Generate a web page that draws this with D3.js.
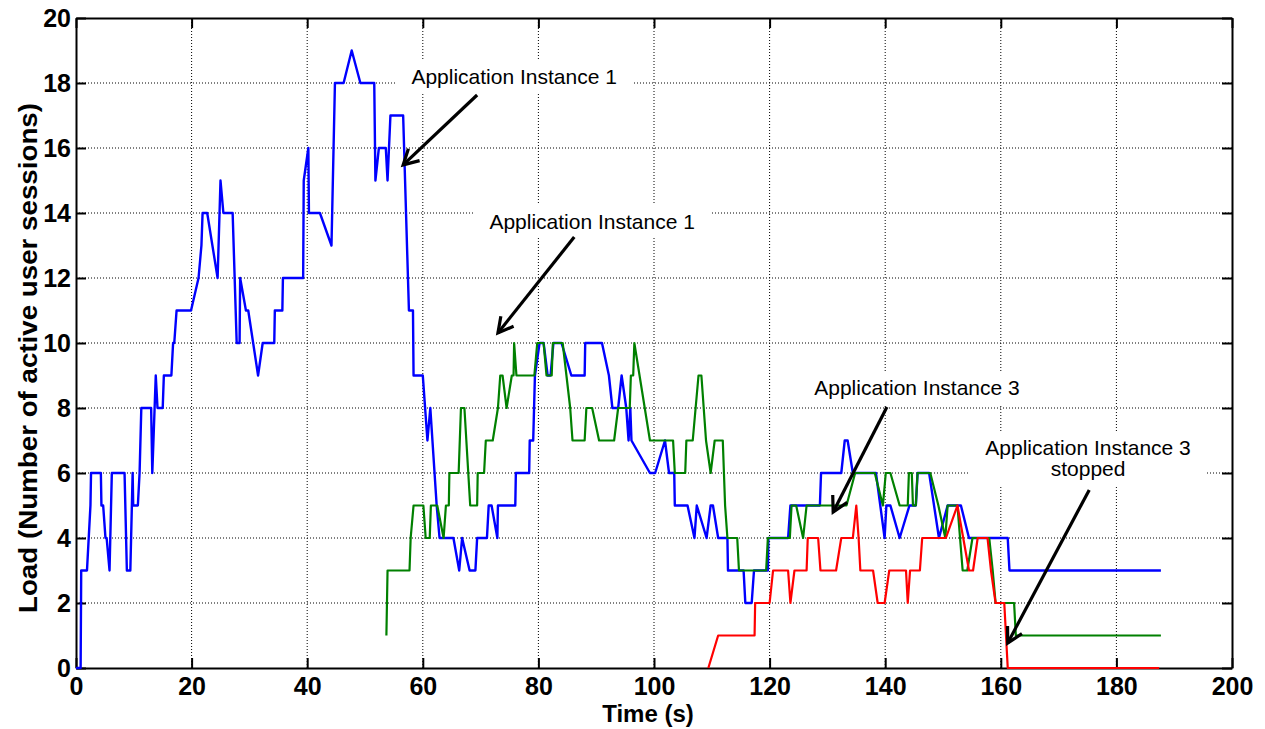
<!DOCTYPE html>
<html>
<head>
<meta charset="utf-8">
<script src="https://cdn.jsdelivr.net/npm/d3@7"></script>
<style>
body { margin: 0; background: #fff; }
text { font-family: "Liberation Sans", Arial, Helvetica, sans-serif; }
</style>
</head>
<body>
<script>
// series: time (s) and load (active sessions)
let blueTime = [0,0.8,0.9,1.9,2.5,2.6,4.3,4.4,4.7,5.1,5.3,5.8,6.2,8.4,8.8,9.4,9.8,9.9,10.7,11.0,11.3,13.0,13.2,13.8,14.1,15.0,15.2,16.5,16.8,17.0,17.4,19.9,21.2,21.7,21.9,22.7,24.5,25.0,25.5,27.1,27.8,28.3,28.4,29.4,29.8,31.5,32.3,34.3,34.4,35.7,35.8,39.3,39.4,40.2,40.3,42.2,44.2,44.8,46.3,47.7,49.2,51.6,51.8,52.4,53.6,53.9,54.4,56.6,57.6,58.3,58.4,60.0,60.8,61.3,62.4,62.9,65.3,66.3,66.8,68.1,69.1,69.4,71.1,71.4,71.9,72.9,73.0,76.0,76.1,78.4,78.5,79.1,79.4,80.2,80.9,81.6,82.1,82.6,84.0,85.7,88.0,88.1,91.0,92.2,92.8,93.8,94.4,95.2,95.6,95.9,96.1,99.3,100.2,101.9,102.6,103.5,103.6,105.8,107.0,107.4,109.1,109.8,110.2,111.1,112.7,112.8,115.5,115.8,116.9,117.3,119.7,119.8,123.2,123.6,128.7,128.9,132.4,133.0,133.5,134.4,138.4,139.9,140.2,140.9,142.5,144.2,145.3,145.6,147.6,149.3,150.8,153.1,154.5,161.2,161.5,187.7]
let blueLoad = [0,0,3,3,5,6,6,5,5,4,4,3,6,6,3,3,6,5,5,6,8,8,6,9,8,8,9,9,10,10,11,11,12,13,14,14,12,15,14,14,10,10,12,11,11,9,10,10,11,11,12,12,15,16,14,14,13,18,18,19,18,18,15,16,16,15,17,17,11,11,9,9,7,8,5,4,4,3,4,3,3,4,4,5,5,4,5,5,6,6,7,7,9,10,10,9,9,10,10,9,9,10,10,9,8,8,9,8,7,8,7,6,6,7,6,6,5,5,4,5,4,5,5,4,4,3,3,2,2,3,3,4,4,5,5,6,6,7,7,6,6,4,5,5,4,5,5,6,6,4,5,5,4,4,3,3]

let greenTime = [53.7,53.9,57.7,57.9,58.4,60.1,60.5,61.2,61.4,62.5,63.6,64.0,64.5,64.6,66.2,66.6,67.2,68.2,69.4,69.5,70.6,70.9,72.1,73.0,73.4,73.8,74.5,75.4,75.7,75.8,76.2,79.3,79.8,80.9,81.4,82.3,82.5,84.2,85.5,85.9,88.0,88.3,89.3,90.5,93.1,93.8,95.8,96.0,96.4,96.6,99.3,103.3,103.6,105.4,105.6,106.7,107.7,108.2,109.0,109.8,110.5,111.9,112.3,112.7,114.4,114.7,119.4,119.7,123.5,123.8,124.6,125.8,126.4,133.3,134.8,138.2,139.6,140.1,140.9,142.5,143.9,144.1,144.6,144.8,145.3,145.6,147.8,149.2,150.4,150.8,152.5,153.4,154.2,155.1,158.0,158.6,159.1,162.3,162.6,187.7]
let greenLoad = [1,3,3,4,5,5,4,4,5,5,4,5,5,6,6,8,8,5,5,6,6,7,7,8,9,9,8,9,9,10,9,9,10,10,9,9,10,10,8,7,7,8,8,7,7,8,8,9,9,10,7,7,6,6,7,7,9,9,7,6,7,7,5,4,4,3,3,4,4,5,5,4,5,5,6,6,5,6,6,5,5,6,6,5,5,6,6,5,4,5,5,3,3,4,4,3,2,2,1,1]

let redTime = [109.4,111.1,117.4,117.5,120.0,120.6,123.2,123.6,124.3,126.4,126.6,128.4,128.8,131.5,132.4,134.4,135.0,135.4,135.7,137.9,138.7,139.9,140.7,143.6,143.9,144.3,146.0,146.4,150.5,152.5,154.5,155.2,156.0,157.7,158.3,159.1,160.6,161.2,187.4]
let redLoad = [0,1,1,2,2,3,3,2,3,3,4,4,3,3,4,4,5,4,3,3,2,2,3,3,2,3,3,4,4,5,3,3,4,4,3,2,2,0,0]

let xTicks = [0,20,40,60,80,100,120,140,160,180,200]
let yTicks = [0,2,4,6,8,10,12,14,16,18,20]

// annotations in data units: label anchor and arrow tail/tip
let noteText = [['Application Instance 1'], ['Application Instance 1'], ['Application Instance 3'], ['Application Instance 3', 'stopped']]
let noteAt = [[75.8, 17.97], [89.3, 13.51], [145.5, 8.4], [175.1, 6.55]]
let arrowFrom = [[69.4, 17.63], [86.2, 13.26], [140.3, 8.03], [175.3, 5.48]]
let arrowTo = [[56.6, 15.48], [73.0, 10.31], [131.0, 4.8], [161.2, 0.77]]

let w = 1265
let h = 729
let x = d3.scaleLinear().domain([0, 200]).range([76, 1232])
let y = d3.scaleLinear().domain([0, 20]).range([668, 18])

let svg = d3.select('body').append('svg').attr('width', w).attr('height', h)

// dotted grid
svg.append('g').selectAll('line').data(xTicks.slice(1, -1)).enter().append('line')
  .attr('x1', d => x(d)).attr('x2', d => x(d)).attr('y1', y(0)).attr('y2', y(20))
  .attr('stroke', '#000').attr('stroke-width', 1).attr('stroke-dasharray', '1,2')
svg.append('g').selectAll('line').data(yTicks.slice(1, -1)).enter().append('line')
  .attr('y1', d => y(d)).attr('y2', d => y(d)).attr('x1', x(0)).attr('x2', x(200))
  .attr('stroke', '#000').attr('stroke-width', 1).attr('stroke-dasharray', '1,2')

// axes with inward ticks (box)
let fmt = d3.format('d')
svg.append('g').attr('transform', 'translate(0,' + y(0) + ')')
  .call(d3.axisBottom(x).tickValues(xTicks).tickFormat(fmt).tickSize(-10).tickSizeOuter(0).tickPadding(9))
svg.append('g').attr('transform', 'translate(' + x(0) + ',0)')
  .call(d3.axisLeft(y).tickValues(yTicks).tickFormat(fmt).tickSize(-10).tickSizeOuter(0).tickPadding(5))
svg.append('g').attr('transform', 'translate(0,' + y(20) + ')')
  .call(d3.axisTop(x).tickValues(xTicks).tickFormat('').tickSize(-10).tickSizeOuter(0))
svg.append('g').attr('transform', 'translate(' + x(200) + ',0)')
  .call(d3.axisRight(y).tickValues(yTicks).tickFormat('').tickSize(-10).tickSizeOuter(0))

svg.selectAll('.domain').attr('stroke', '#000').attr('stroke-width', 2)
svg.selectAll('.tick line').attr('stroke', '#000').attr('stroke-width', 2)
svg.selectAll('.tick text').attr('fill', '#000')
  .style('font-family', '"Liberation Sans", Arial, sans-serif').style('font-size', '25px').style('font-weight', 'bold')

// lines, on top of the axes
let line = d3.line().x(d => x(d[0])).y(d => y(d[1]))
let series = [
  [d3.zip(blueTime, blueLoad), '#0000ff', 2.4],
  [d3.zip(greenTime, greenLoad), '#008000', 2.2],
  [d3.zip(redTime, redLoad), '#ff0000', 2.2]
]
series.forEach(s => {
  svg.append('path').attr('d', line(s[0])).attr('fill', 'none')
    .attr('stroke', s[1]).attr('stroke-width', s[2]).attr('stroke-linejoin', 'round')
})

// axis titles
svg.append('text').attr('x', 648).attr('y', 722).attr('text-anchor', 'middle')
  .style('font-size', '24px').style('font-weight', 'bold').text('Time (s)')
svg.append('text').attr('transform', 'translate(37,358) rotate(-90)')
  .attr('text-anchor', 'middle').style('font-size', '26px').style('font-weight', 'bold')
  .attr('textLength', 510).attr('lengthAdjust', 'spacingAndGlyphs')
  .text('Load (Number of active user sessions)')

// annotations: white text boxes and arrows
noteText.forEach((lines, i) => {
  let g = svg.append('g')
  let t = g.append('text').attr('text-anchor', 'middle').style('font-size', '21px').attr('fill', '#000')
  lines.forEach((s, j) => {
    t.append('tspan').attr('x', x(noteAt[i][0])).attr('y', y(noteAt[i][1]) + j * 21).text(s)
  })
  let b = t.node().getBBox()
  g.insert('rect', 'text').attr('x', b.x - 16).attr('y', b.y - 5).attr('width', b.width + 32)
    .attr('height', b.height + 10).attr('fill', '#fff')

  let x1 = x(arrowFrom[i][0]), y1 = y(arrowFrom[i][1])
  let x2 = x(arrowTo[i][0]), y2 = y(arrowTo[i][1])
  let a = Math.atan2(y2 - y1, x2 - x1)
  let head = 17, spread = 0.5
  svg.append('line').attr('x1', x1).attr('y1', y1).attr('x2', x2).attr('y2', y2)
    .attr('stroke', '#000').attr('stroke-width', 3.2)
  svg.append('path')
    .attr('d', 'M' + (x2 - head * Math.cos(a - spread)) + ',' + (y2 - head * Math.sin(a - spread)) +
      'L' + x2 + ',' + y2 +
      'L' + (x2 - head * Math.cos(a + spread)) + ',' + (y2 - head * Math.sin(a + spread)))
    .attr('fill', 'none').attr('stroke', '#000').attr('stroke-width', 3.2)
})
</script>
</body>
</html>
